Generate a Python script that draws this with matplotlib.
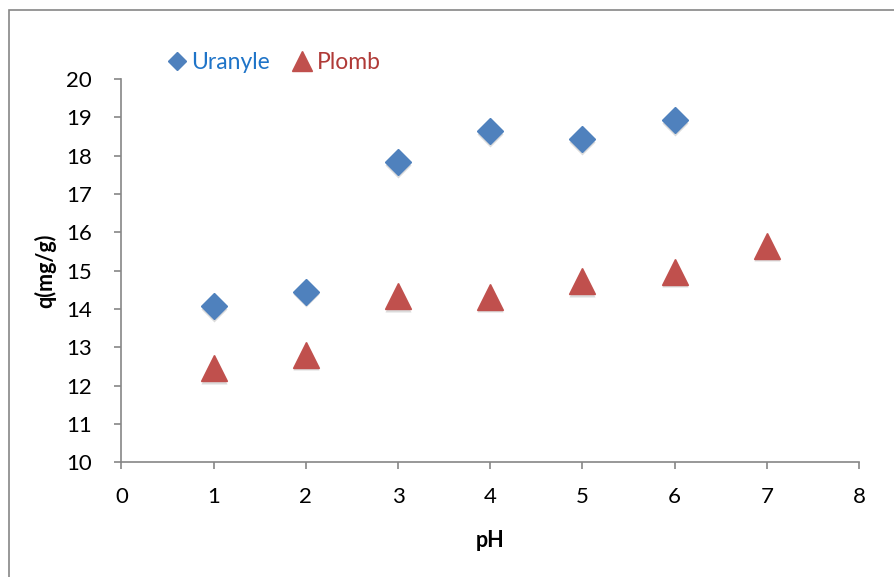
import matplotlib.pyplot as plt
from matplotlib.patches import Rectangle

plt.rcParams['font.family'] = ['Lato', 'DejaVu Sans']

ph_uranyle = [1, 2, 3, 4, 5, 6]
q_uranyle = [14.07, 14.45, 17.82, 18.63, 18.42, 18.93]
ph_plomb = [1, 2, 3, 4, 5, 6, 7]
q_plomb = [12.45, 12.81, 14.34, 14.32, 14.73, 14.97, 15.65]

fig = plt.figure(figsize=(8.94, 5.77), dpi=100)
ax = fig.add_axes([0.1358, 0.1988, 0.8252, 0.6646])

# soft shadow under markers, like the Excel style
ax.plot(ph_uranyle, [v - 0.07 for v in q_uranyle], 'D', ms=13.2,
        color='#999999', alpha=0.35, mec='none', zorder=2)
ax.plot(ph_plomb, [v - 0.07 for v in q_plomb], '^', ms=18.5,
        color='#999999', alpha=0.35, mec='none', zorder=2)

ax.plot(ph_uranyle, q_uranyle, 'D', ms=13.2, color='#4F81BD', mec='#4F81BD',
        label='Uranyle', zorder=3)
ax.plot(ph_plomb, q_plomb, '^', ms=18.5, color='#C0504D', mec='#C0504D',
        label='Plomb', zorder=3)

ax.set_xlim(0, 8)
ax.set_ylim(10, 20)
ax.set_xticks(range(0, 9))
ax.set_yticks(range(10, 21))
for s in ['top', 'right']:
    ax.spines[s].set_visible(False)
for s in ['left', 'bottom']:
    ax.spines[s].set_color('#868686')
    ax.spines[s].set_linewidth(1.2)
ax.tick_params(direction='out', length=5, width=1.2, color='#868686',
               labelsize=16, labelcolor='black')
ax.tick_params(axis='x', pad=13)
ax.tick_params(axis='y', pad=16)
ax.set_xlabel('pH', fontsize=15.5, fontweight='bold', labelpad=16)
ax.set_ylabel('q(mg/g)', fontsize=15.5, fontweight='bold', labelpad=7)

leg = ax.legend(loc='lower left', bbox_to_anchor=(0.047, 0.992), ncol=2,
                frameon=False, fontsize=16.5, handletextpad=0.15,
                columnspacing=0.9, handlelength=1.0, borderaxespad=0)
for txt, c in zip(leg.get_texts(), ['#1F74C8', '#B03A37']):
    txt.set_color(c)
for h, ms in zip(leg.legend_handles, [9.2, 14]):
    h.set_markersize(ms)

# chart frame
fig.patches.append(Rectangle((9 / 894, -0.1), 1.2, 1 - 10 / 577 + 0.1,
                             transform=fig.transFigure, fill=False,
                             edgecolor='#868686', linewidth=1.2))

fig.savefig('out.png', dpi=100)
